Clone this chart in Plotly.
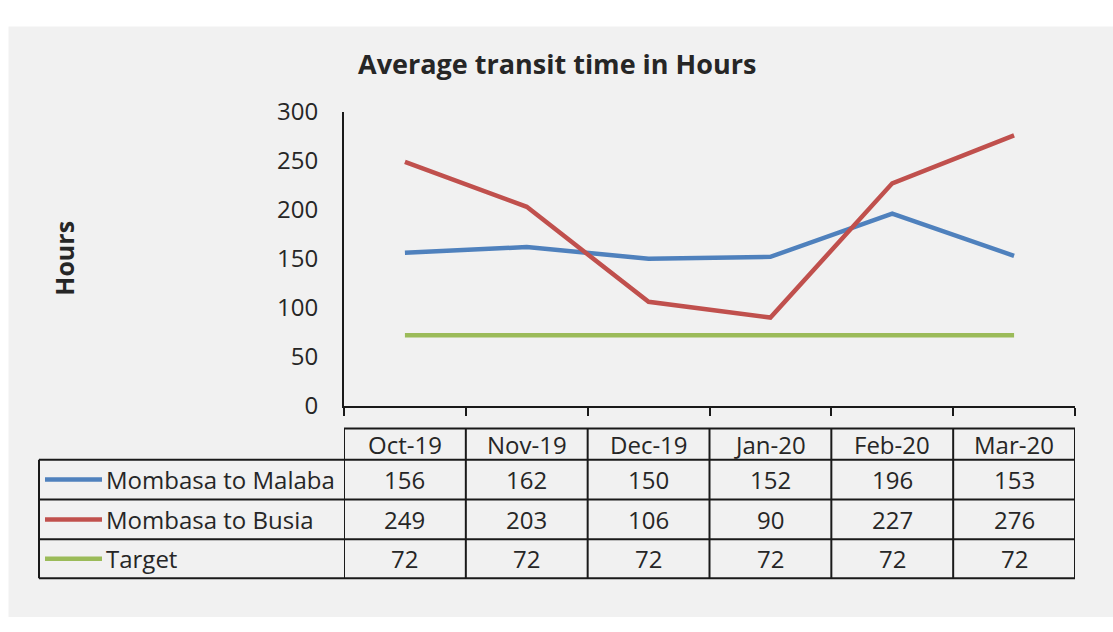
import plotly.graph_objects as go

months = ["Oct-19", "Nov-19", "Dec-19", "Jan-20", "Feb-20", "Mar-20"]
series_names = ["Mombasa to Malaba", "Mombasa to Busia", "Target"]
malaba = [156, 162, 150, 152, 196, 153]
busia = [249, 203, 106, 90, 227, 276]
target = [72, 72, 72, 72, 72, 72]
y_ticks = [0, 50, 100, 150, 200, 250, 300]

colors = ["#4f81bd", "#c0504d", "#9bbb59"]
FONT = "Open Sans, DejaVu Sans, sans-serif"
TXT = "#262626"
W, H = 1113, 632


def px_x(v):
    return v / W


def px_y(v):
    # pixel from top -> paper fraction from bottom
    return 1 - v / H


fig = go.Figure()
for name, vals, col in zip(series_names, [malaba, busia, target], colors):
    fig.add_trace(go.Scatter(x=months, y=vals, name=name, mode="lines",
                             line=dict(color=col, width=4.5),
                             hoverinfo="x+y+name"))

shapes = []
annotations = []

# grey panel behind the chart
shapes.append(dict(type="rect", xref="paper", yref="paper", layer="below",
                   x0=px_x(8.5), x1=1, y0=0, y1=px_y(9),
                   fillcolor="#f1f1f1", line=dict(width=0)))

# data table under the axis
row_edges = [433, 466, 508, 550, 591]
line_style = dict(color="#1a1a1a", width=2)
tbl_left = px_x(39)
n = len(months)

# header row (only over month columns)
shapes.append(dict(type="line", xref="x", yref="paper", x0=-0.5, x1=n - 0.5,
                   y0=px_y(row_edges[0]), y1=px_y(row_edges[0]), line=line_style))
for edge in row_edges[1:]:
    shapes.append(dict(type="line", xref="paper", yref="paper", x0=tbl_left, x1=px_x(1075),
                       y0=px_y(edge), y1=px_y(edge), line=line_style))
for k in range(n + 1):
    shapes.append(dict(type="line", xref="x", yref="paper", x0=k - 0.5, x1=k - 0.5,
                       y0=px_y(row_edges[0]), y1=px_y(row_edges[-1]), line=line_style))
shapes.append(dict(type="line", xref="paper", yref="paper", x0=tbl_left, x1=tbl_left,
                   y0=px_y(row_edges[1]), y1=px_y(row_edges[-1]), line=line_style))

for i, m in enumerate(months):
    annotations.append(dict(x=m, xref="x", yref="paper",
                            y=px_y((row_edges[0] + row_edges[1]) / 2),
                            text=m, showarrow=False, xanchor="center", yanchor="middle",
                            font=dict(family=FONT, size=24, color=TXT)))

for r, (name, vals, col) in enumerate(zip(series_names, [malaba, busia, target], colors)):
    yc = px_y((row_edges[r + 1] + row_edges[r + 2]) / 2)
    shapes.append(dict(type="line", xref="paper", yref="paper", x0=px_x(45), x1=px_x(102),
                       y0=yc, y1=yc, line=dict(color=col, width=4.5)))
    annotations.append(dict(x=px_x(104), y=yc, xref="paper", yref="paper", text=name,
                            showarrow=False, xanchor="left", yanchor="middle",
                            font=dict(family=FONT, size=24, color=TXT)))
    for m, v in zip(months, vals):
        annotations.append(dict(x=m, xref="x", y=yc, yref="paper", text=str(v),
                                showarrow=False, xanchor="center", yanchor="middle",
                                font=dict(family=FONT, size=24, color=TXT)))

# title and y-axis title
annotations.append(dict(x=px_x(557), y=px_y(48), xref="paper", yref="paper",
                        text="<b>Average transit time in Hours</b>", showarrow=False,
                        xanchor="center", yanchor="middle",
                        font=dict(family=FONT, size=27, color=TXT)))
annotations.append(dict(x=px_x(64), y=px_y(254), xref="paper", yref="paper",
                        text="<b>Hours</b>", showarrow=False, textangle=-90,
                        xanchor="center", yanchor="middle",
                        font=dict(family=FONT, size=25, color=TXT)))

fig.update_layout(
    width=W, height=H,
    margin=dict(l=0, r=0, t=0, b=0),
    paper_bgcolor="white",
    plot_bgcolor="rgba(0,0,0,0)",
    showlegend=False,
    shapes=shapes,
    annotations=annotations,
    font=dict(family=FONT, color=TXT),
    xaxis=dict(domain=[px_x(344), px_x(1075)], type="category",
               categoryorder="array", categoryarray=months,
               range=[-0.5, n - 0.5], showticklabels=False,
               tickson="boundaries", ticks="outside", ticklen=8, tickwidth=2,
               tickcolor="#1a1a1a", showline=True, linecolor="#1a1a1a", linewidth=2,
               showgrid=False, zeroline=False, fixedrange=True),
    yaxis=dict(domain=[1 - 409 / H, 1 - 99 / H], range=[0, 300],
               tickvals=y_ticks, ticks="", showline=True, linecolor="#1a1a1a",
               linewidth=2, showgrid=False, zeroline=False, ticklabelstandoff=19,
               tickfont=dict(family=FONT, size=24, color=TXT), fixedrange=True),
)

# pin the figure to the window's top-left corner, no page margin or scrolling
pin = """
document.body.style.margin = '0';
document.documentElement.style.overflow = 'hidden';
document.body.style.overflow = 'hidden';
var gd = document.getElementById('{plot_id}');
gd.style.position = 'fixed';
gd.style.left = '0px';
gd.style.top = '0px';
"""
fig.write_html("out.html", post_script=pin, config={"displayModeBar": False})
